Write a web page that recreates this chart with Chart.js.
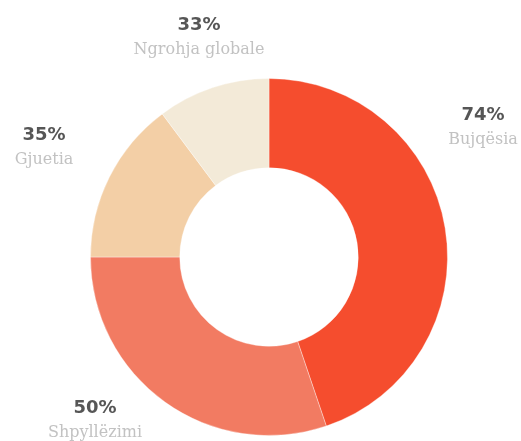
<!DOCTYPE html>
<html lang="sq">
    <head>
        <meta charset="UTF-8">
        <title>Doughnut</title>
        <style>
            html, body { margin: 0; padding: 0; background: #ffffff; }
            .chart-container { position: relative; width: 521px; height: 441px; }
        </style>
    </head>
    <body>
        <div class="chart-container"><canvas id="chart"></canvas></div>

        <script src="https://cdn.jsdelivr.net/npm/chart.js@4.4.1/dist/chart.umd.min.js"></script>
        <script>
            // data
            const categories = ["Bujqësia", "Shpyllëzimi", "Gjuetia", "Ngrohja globale"];
            const percentLabels = ["74%", "50%", "35%", "33%"];
            // slice sizes, share of the ring (%)
            const sliceShares = [44.8, 30.2, 14.8, 10.2];
            const sliceColors = ["#f54d2e", "#f27b62", "#f3cfa6", "#f3ead8"];

            // where each label sits, relative to the ring centre
            const labelOffsets = [[214, -142], [-174, 151], [-225, -122], [-70, -232]];

            const outerLabels = {
                id: "outerLabels",
                afterDraw(chart) {
                    const ctx = chart.ctx;
                    const arc = chart.getDatasetMeta(0).data[0];
                    ctx.save();
                    ctx.textAlign = "center";
                    ctx.textBaseline = "middle";
                    categories.forEach((name, i) => {
                        const x = arc.x + labelOffsets[i][0];
                        const y = arc.y + labelOffsets[i][1];
                        ctx.fillStyle = "#565656";
                        ctx.font = "bold 18px 'DejaVu Sans'";
                        ctx.fillText(percentLabels[i], x, y);
                        ctx.fillStyle = "#c2c2c2";
                        ctx.font = "16px 'DejaVu Serif'";
                        ctx.fillText(name, x, y + 25);
                    });
                    ctx.restore();
                }
            };

            new Chart(document.getElementById("chart"), {
                type: "doughnut",
                data: {
                    labels: categories,
                    datasets: [{
                        data: sliceShares,
                        backgroundColor: sliceColors,
                        borderColor: "rgba(255,255,255,0.35)",
                        borderWidth: 1
                    }]
                },
                options: {
                    responsive: true,
                    maintainAspectRatio: false,
                    animation: false,
                    cutout: "50%",
                    layout: { padding: { left: 90, right: 73, top: 78, bottom: 5 } },
                    plugins: {
                        legend: { display: false },
                        tooltip: { enabled: false }
                    }
                },
                plugins: [outerLabels]
            });
        </script>
    </body>
</html>
